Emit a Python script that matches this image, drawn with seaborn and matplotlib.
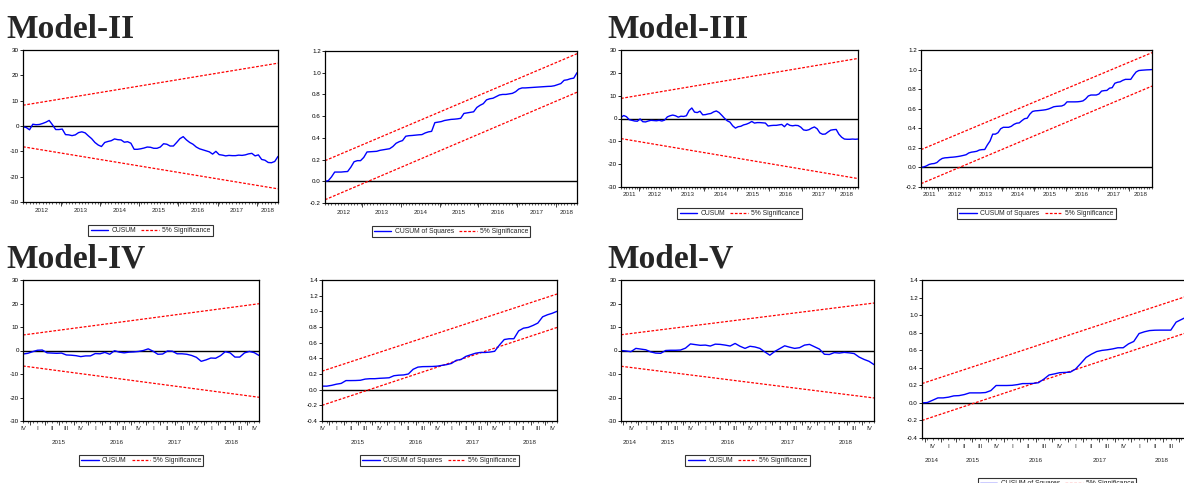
import numpy as np
import pandas as pd
import matplotlib
matplotlib.use("Agg")
import matplotlib.pyplot as plt
import matplotlib.transforms as mtransforms
from matplotlib.lines import Line2D
import seaborn as sns

sns.set_style("ticks")
plt.rcParams["font.family"] = ["Liberation Sans", "DejaVu Sans"]
plt.rcParams["axes.unicode_minus"] = False

W, H = 1184, 483

m2_start = "2012-01"
m2_cusum = [-0.3, -0.6, -1.5, 0.7, 0.5, 0.6, 1.0, 1.5, 2.2, 0.5,
            -1.4, -1.4, -1.2, -3.4, -3.5, -3.8, -3.5, -2.6, -2.3, -2.7,
            -3.9, -5.0, -6.5, -7.5, -8.1, -6.5, -6.1, -5.8, -5.1, -5.4,
            -5.5, -6.4, -6.2, -6.8, -9.2, -9.2, -9.0, -8.7, -8.3, -8.4,
            -8.8, -8.8, -8.3, -7.0, -7.2, -7.9, -7.9, -6.5, -5.0, -4.2,
            -5.5, -6.5, -7.2, -8.3, -9.0, -9.4, -9.8, -10.2, -11.1, -10.0,
            -11.3, -11.5, -11.8, -11.6, -11.7, -11.7, -11.5, -11.6, -11.4, -11.0,
            -10.8, -11.8, -11.4, -13.2, -13.5, -14.4, -14.5, -14.0, -12.0]
m2_cusum_upper = [8.2, 24.8]
m2_cusum_lower = [-8.2, -24.8]
m2_cusumsq = [0.0, 0.005, 0.04, 0.085, 0.085, 0.085, 0.088, 0.09, 0.13, 0.18,
              0.19, 0.19, 0.22, 0.27, 0.272, 0.274, 0.276, 0.285, 0.29, 0.295,
              0.30, 0.32, 0.35, 0.365, 0.375, 0.415, 0.42, 0.422, 0.425, 0.428,
              0.43, 0.445, 0.455, 0.46, 0.54, 0.545, 0.55, 0.56, 0.565, 0.57,
              0.572, 0.575, 0.58, 0.625, 0.63, 0.635, 0.64, 0.68, 0.70, 0.715,
              0.75, 0.76, 0.765, 0.78, 0.795, 0.80, 0.80, 0.805, 0.81, 0.825,
              0.85, 0.86, 0.86, 0.862, 0.864, 0.866, 0.868, 0.87, 0.872, 0.874,
              0.875, 0.88, 0.89, 0.90, 0.93, 0.935, 0.945, 0.95, 1.0]
m2_cusumsq_upper = [0.19, 1.175]
m2_cusumsq_lower = [-0.17, 0.82]

m3_start = "2011-06"
m3_cusum = [0.5, 1.3, 0.8, -0.5, -0.8, -1.1, -1.2, -0.2, -1.4, -1.5,
            -1.1, -0.8, -0.9, -1.0, -0.8, -1.1, -0.7, 0.7, 1.2, 1.5,
            1.2, 0.6, 1.0, 0.9, 1.2, 3.5, 4.6, 2.8, 2.6, 3.2,
            1.6, 1.7, 2.0, 2.2, 2.9, 3.3, 2.6, 1.4, 0.1, -1.0,
            -1.6, -3.2, -4.2, -3.6, -3.4, -2.8, -2.5, -2.0, -1.3, -2.0,
            -1.8, -1.8, -1.9, -2.0, -3.3, -3.1, -3.0, -3.0, -2.8, -2.6,
            -3.6, -2.3, -3.0, -3.2, -3.0, -3.1, -3.8, -5.0, -5.2, -4.9,
            -4.2, -3.7, -4.5, -6.3, -6.9, -6.8, -5.9, -5.1, -4.9, -4.8,
            -6.9, -8.2, -9.0, -9.1, -9.1, -9.0, -9.1, -9.0]
m3_cusum_upper = [8.8, 26.3]
m3_cusum_lower = [-8.8, -26.3]
m3_cusumsq = [0.0, 0.005, 0.015, 0.03, 0.037, 0.04, 0.05, 0.075, 0.092, 0.098,
              0.10, 0.103, 0.105, 0.108, 0.112, 0.117, 0.123, 0.13, 0.148, 0.156,
              0.16, 0.165, 0.178, 0.182, 0.183, 0.23, 0.27, 0.34, 0.34, 0.355,
              0.395, 0.41, 0.41, 0.41, 0.42, 0.44, 0.452, 0.455, 0.478, 0.498,
              0.503, 0.545, 0.572, 0.578, 0.58, 0.583, 0.586, 0.59, 0.597, 0.608,
              0.62, 0.624, 0.626, 0.628, 0.64, 0.67, 0.67, 0.67, 0.67, 0.671,
              0.674, 0.68, 0.70, 0.73, 0.74, 0.74, 0.74, 0.75, 0.78, 0.785,
              0.787, 0.81, 0.815, 0.86, 0.87, 0.875, 0.89, 0.90, 0.90, 0.90,
              0.94, 0.975, 0.99, 0.993, 0.995, 0.997, 0.998, 1.0]
m3_cusumsq_upper = [0.182, 1.173]
m3_cusumsq_lower = [-0.166, 0.831]

m4_start = "2014-11"
m4_cusum = [-1.5, -1.2, -0.5, 0.1, 0.2, -1.0, -1.1, -1.2, -1.1, -1.9,
            -2.0, -2.2, -2.6, -2.3, -2.3, -1.3, -1.4, -0.8, -1.6, -0.1,
            -0.7, -1.0, -0.7, -0.6, -0.4, 0.0, 0.7, -0.3, -1.6, -1.5,
            -0.2, -0.3, -1.4, -1.4, -1.6, -2.1, -2.9, -4.6, -4.0, -3.2,
            -3.3, -2.2, -0.5, -1.0, -2.8, -2.8, -1.0, -0.4, -0.9, -2.1]
m4_cusum_upper = [6.6, 19.9]
m4_cusum_lower = [-6.6, -19.9]
m4_cusumsq = [0.045, 0.045, 0.055, 0.07, 0.08, 0.116, 0.116, 0.117, 0.12, 0.135,
              0.14, 0.14, 0.145, 0.148, 0.152, 0.178, 0.185, 0.188, 0.2, 0.26,
              0.288, 0.294, 0.295, 0.296, 0.30, 0.31, 0.32, 0.335, 0.375, 0.385,
              0.425, 0.445, 0.465, 0.475, 0.475, 0.48, 0.49, 0.57, 0.64, 0.65,
              0.65, 0.75, 0.785, 0.795, 0.82, 0.85, 0.93, 0.956, 0.975, 1.0]
m4_cusumsq_upper = [0.236, 1.221]
m4_cusumsq_lower = [-0.2, 0.794]

m5_start = "2014-09"
m5_cusum = [0.0, -0.2, -0.5, 0.9, 0.6, 0.3, -0.6, -1.1, -1.2, 0.0,
            0.1, 0.1, 0.2, 1.0, 2.8, 2.5, 2.2, 2.3, 1.9, 2.7,
            2.6, 2.3, 1.9, 3.0, 1.8, 0.9, 1.8, 1.5, 0.9, -0.6,
            -2.0, -0.4, 0.8, 2.0, 1.4, 0.9, 1.2, 2.3, 2.6, 1.6,
            0.6, -1.6, -1.7, -0.9, -1.1, -0.8, -1.0, -1.3, -2.8, -3.8,
            -4.6, -6.0]
m5_cusum_upper = [6.7, 20.2]
m5_cusum_lower = [-6.7, -20.2]
m5_cusumsq = [0.0, 0.004, 0.03, 0.057, 0.057, 0.065, 0.08, 0.083, 0.095, 0.114,
              0.114, 0.114, 0.118, 0.14, 0.198, 0.198, 0.198, 0.2, 0.208, 0.22,
              0.22, 0.222, 0.23, 0.27, 0.318, 0.33, 0.344, 0.347, 0.35, 0.385,
              0.45, 0.518, 0.555, 0.585, 0.598, 0.605, 0.615, 0.628, 0.628, 0.672,
              0.70, 0.79, 0.81, 0.824, 0.828, 0.829, 0.829, 0.829, 0.92, 0.95,
              0.98, 1.0]
m5_cusumsq_upper = [0.22, 1.235]
m5_cusumsq_lower = [-0.2, 0.82]

cusum_ticks = [-30, -20, -10, 0, 10, 20, 30]
sq_ticks_a = [-0.2, 0.0, 0.2, 0.4, 0.6, 0.8, 1.0, 1.2]
sq_ticks_b = [-0.4, -0.2, 0.0, 0.2, 0.4, 0.6, 0.8, 1.0, 1.2, 1.4]
quarter_names = ["I", "II", "III", "IV"]

fig = plt.figure(figsize=(W / 100, H / 100), dpi=100)


def add_ax(l, t, r, b):
    return fig.add_axes([l / W, 1 - b / H, (r - l) / W, (b - t) / H])


def below(ax, px):
    return mtransforms.offset_copy(ax.get_xaxis_transform(), fig=fig, y=-px, units="dots")


def draw(box, start, values, upper, lower, name, yticks, fmt, quarterly, leg_top, rows):
    ax = add_ax(*box)
    dates = pd.date_range(start, periods=len(values), freq="MS")
    t = np.asarray(dates.year + (dates.month - 1) / 12)
    df = pd.DataFrame({"t": t, "v": values})
    band = pd.DataFrame({"t": [t[0], t[-1]], "upper": upper, "lower": lower})

    ax.axhline(0, color="black", lw=1.0, zorder=1)
    dash = (0, (2.2, 1.3))
    sns.lineplot(data=band, x="t", y="upper", ax=ax, color="red", lw=0.9, linestyle=dash)
    sns.lineplot(data=band, x="t", y="lower", ax=ax, color="red", lw=0.9, linestyle=dash)
    sns.lineplot(data=df, x="t", y="v", ax=ax, color="blue", lw=1.0)

    t0, t1 = t[0], t[-1]
    ax.set_xlim(t0, t1)
    ax.set_ylim(yticks[0], yticks[-1])
    ax.set_xlabel("")
    ax.set_ylabel("")
    ax.set_yticks(yticks)
    ax.set_yticklabels([fmt.format(v) for v in yticks])
    for s in ax.spines.values():
        s.set_color("black")
        s.set_linewidth(0.9)
    ax.tick_params(axis="y", direction="out", length=2, width=0.6, labelsize=4.5,
                   pad=1, colors="black")

    # month ticks (minor) and year / quarter boundaries (major)
    ax.set_xticks(t, minor=True)
    years = range(int(np.floor(t0)), int(np.floor(t1)) + 1)
    if quarterly:
        bounds = [y + q / 4 - 1 / 24 for y in years for q in range(4)]
    else:
        bounds = [y - 1 / 24 for y in years]
    ax.set_xticks([b for b in bounds if t0 < b < t1])
    ax.tick_params(axis="x", which="major", direction="out", length=3, width=0.6,
                   labelbottom=False)
    ax.tick_params(axis="x", which="minor", direction="out", length=1.5, width=0.5)

    year_row = rows[-1]
    if quarterly:
        for y in years:
            for q in range(4):
                c = y + q / 4 + 1 / 12
                if t0 - 0.05 <= c <= t1 + 0.05:
                    ax.text(c, 0, quarter_names[q], transform=below(ax, rows[0]),
                            ha="center", va="center", fontsize=4.5)
    for y in years:
        lo, hi = max(y - 1 / 24, t0), min(y + 23 / 24, t1)
        if hi - lo > 0.2:
            ax.text((lo + hi) / 2, 0, str(y), transform=below(ax, year_row),
                    ha="center", va="center", fontsize=4.5)

    handles = [Line2D([], [], color="blue", lw=1.0),
               Line2D([], [], color="red", lw=0.9, linestyle=dash)]
    cx = (box[0] + box[2]) / 2
    leg = ax.legend(handles, [name, "5% Significance"], ncol=2, loc="upper center",
                    bbox_to_anchor=(cx / W, 1 - leg_top / H), bbox_transform=fig.transFigure,
                    frameon=True, fancybox=False, edgecolor="black", fontsize=4.9,
                    handlelength=2.6, handletextpad=0.45, columnspacing=0.8,
                    borderpad=0.3, borderaxespad=0)
    leg.get_frame().set_linewidth(0.8)
    return ax


draw((23, 50, 278, 202), m2_start, m2_cusum, m2_cusum_upper, m2_cusum_lower,
     "CUSUM", cusum_ticks, "{:.0f}", False, 225, (9,))
draw((325, 51, 577, 203), m2_start, m2_cusumsq, m2_cusumsq_upper, m2_cusumsq_lower,
     "CUSUM of Squares", sq_ticks_a, "{:.1f}", False, 226, (9,))
draw((621, 50, 858, 187), m3_start, m3_cusum, m3_cusum_upper, m3_cusum_lower,
     "CUSUM", cusum_ticks, "{:.0f}", False, 208, (7,))
draw((921, 50, 1152, 187), m3_start, m3_cusumsq, m3_cusumsq_upper, m3_cusumsq_lower,
     "CUSUM of Squares", sq_ticks_a, "{:.1f}", False, 208, (7,))
draw((23, 280, 259, 421), m4_start, m4_cusum, m4_cusum_upper, m4_cusum_lower,
     "CUSUM", cusum_ticks, "{:.0f}", True, 455, (7, 21))
draw((322, 280, 557, 421), m4_start, m4_cusumsq, m4_cusumsq_upper, m4_cusumsq_lower,
     "CUSUM of Squares", sq_ticks_b, "{:.1f}", True, 455, (7, 21))
draw((621, 280, 874, 421), m5_start, m5_cusum, m5_cusum_upper, m5_cusum_lower,
     "CUSUM", cusum_ticks, "{:.0f}", True, 455, (7, 21))
draw((922, 280, 1192, 438), m5_start, m5_cusumsq, m5_cusumsq_upper, m5_cusumsq_lower,
     "CUSUM of Squares", sq_ticks_b, "{:.1f}", True, 478, (8, 23))

for label, x, y in [("Model-II", 6, 38), ("Model-III", 607, 38),
                    ("Model-IV", 6, 267), ("Model-V", 607, 267)]:
    fig.text(x / W, 1 - y / H, label, family=["Liberation Serif", "DejaVu Serif"],
             fontweight="bold", fontsize=24, va="baseline", ha="left")

fig.savefig("out.png", dpi=100)
